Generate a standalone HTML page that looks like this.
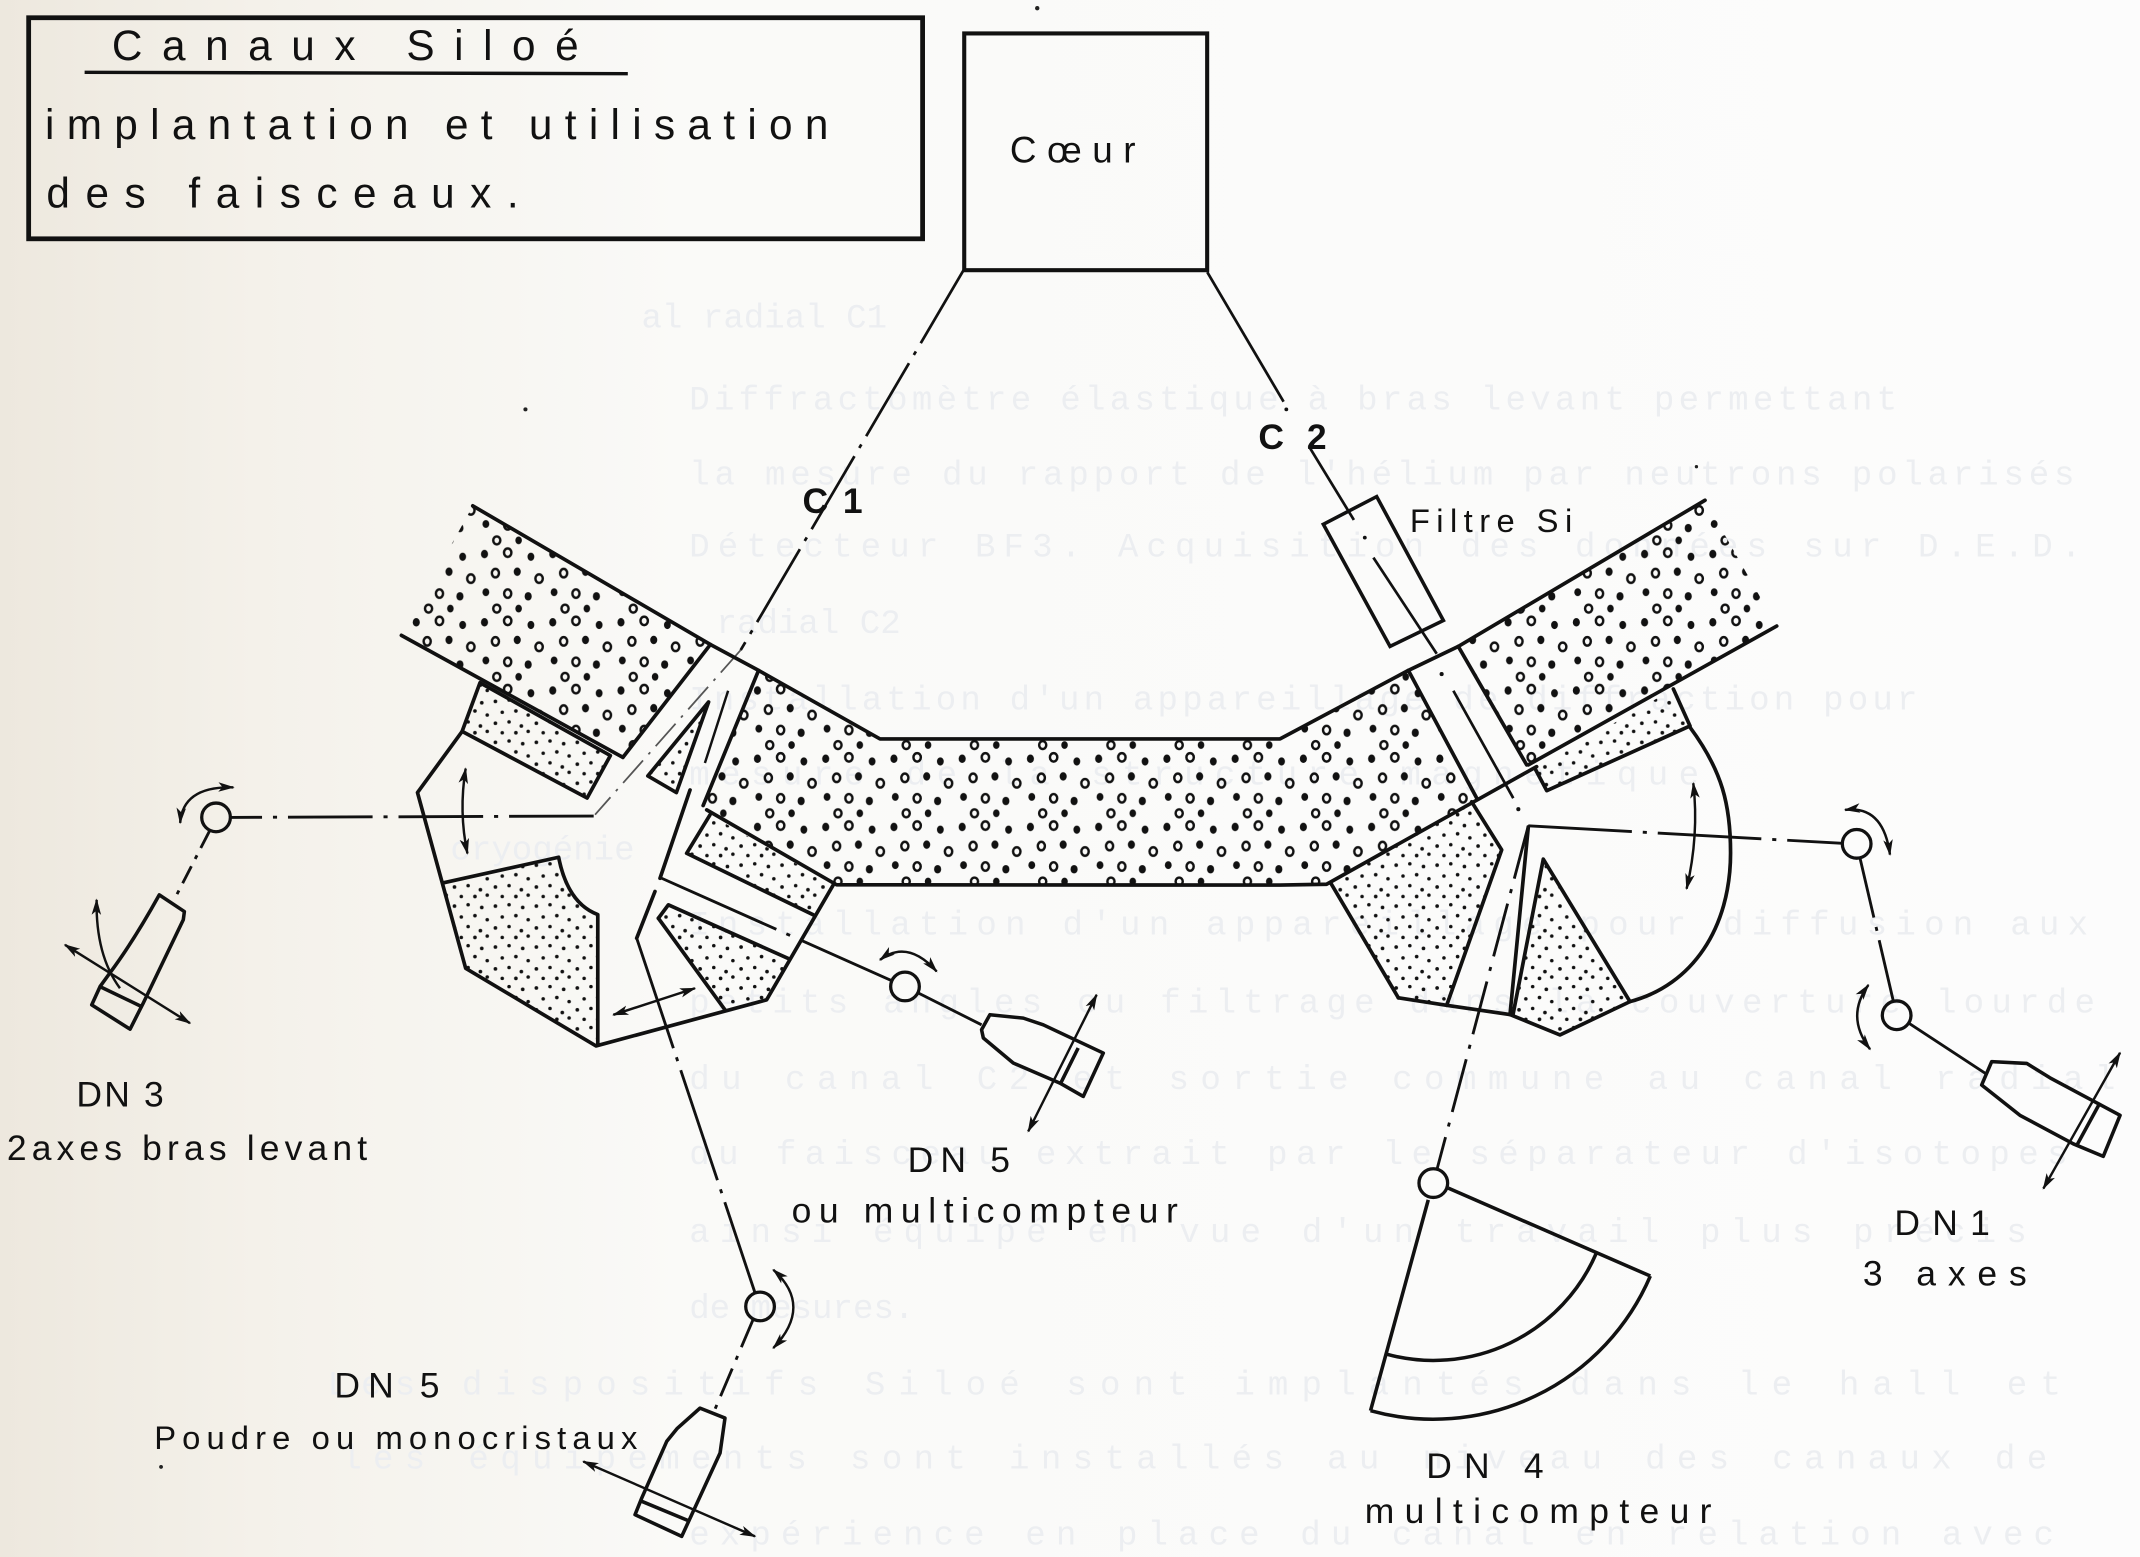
<!DOCTYPE html>
<html>
<head>
<meta charset="utf-8">
<style>
html,body{margin:0;padding:0;background:#fbfbfa;}
svg{display:block;}
text{font-family:"Liberation Sans","DejaVu Sans",sans-serif;fill:#111;}
g.bg text{font-family:"Liberation Mono","DejaVu Sans Mono",monospace;fill:#eceef1;font-size:25px;}
</style>
</head>
<body>
<svg width="2140" height="1557" viewBox="0 0 1568 1141" preserveAspectRatio="none" xmlns="http://www.w3.org/2000/svg">
<defs>
  <linearGradient id="paper" x1="0" y1="0" x2="1" y2="0">
    <stop offset="0" stop-color="#ede8de"/>
    <stop offset="0.12" stop-color="#f4f1ea"/>
    <stop offset="0.32" stop-color="#fafaf8"/>
    <stop offset="1" stop-color="#fcfcfc"/>
  </linearGradient>
  <pattern id="big" width="50" height="50" patternUnits="userSpaceOnUse">
    <g fill="#111">
      <ellipse cx="5" cy="6" rx="2.6" ry="3.1"/>
      <ellipse cx="39" cy="8" rx="2.5" ry="3"/>
      <ellipse cx="29" cy="19" rx="2.6" ry="3.1"/>
      <ellipse cx="6" cy="34" rx="2.5" ry="2.9"/>
      <ellipse cx="37" cy="37" rx="2.6" ry="3.1"/>
      <ellipse cx="30" cy="46" rx="2.4" ry="2.8"/>
    </g>
    <g fill="none" stroke="#111" stroke-width="1.8">
      <ellipse cx="22" cy="5" rx="2.7" ry="3.1"/>
      <ellipse cx="13" cy="20" rx="2.6" ry="3.1"/>
      <ellipse cx="45" cy="24" rx="2.7" ry="3.1"/>
      <ellipse cx="22" cy="35" rx="2.6" ry="3.1"/>
      <ellipse cx="14" cy="46" rx="2.6" ry="2.9"/>
    </g>
  </pattern>
  <pattern id="fine" width="30" height="30" patternUnits="userSpaceOnUse">
    <g fill="#111">
      <circle cx="3" cy="4" r="1.35"/><circle cx="13" cy="3" r="1.3"/><circle cx="23" cy="5" r="1.35"/>
      <circle cx="8" cy="12" r="1.3"/><circle cx="18" cy="11" r="1.35"/><circle cx="27" cy="14" r="1.3"/>
      <circle cx="3" cy="20" r="1.35"/><circle cx="13" cy="19" r="1.3"/><circle cx="22" cy="22" r="1.35"/>
      <circle cx="8" cy="27" r="1.3"/><circle cx="18" cy="27" r="1.35"/><circle cx="27" cy="26" r="1.3"/>
    </g>
  </pattern>
  <marker id="ah" viewBox="0 0 12 8" refX="11" refY="4" markerWidth="12" markerHeight="8" markerUnits="userSpaceOnUse" orient="auto-start-reverse">
    <path d="M0,0.5 L12,4 L0,7.5 L3,4 z" fill="#111"/>
  </marker>
</defs>

<rect x="0" y="0" width="1568" height="1141" fill="url(#paper)"/>

<!-- faint bleed-through typed text -->
<g class="bg">
  <text x="470" y="240">al radial C1</text>
  <text x="505" y="300" textLength="885" lengthAdjust="spacing">Diffractomètre élastique à bras levant permettant</text>
  <text x="505" y="355" textLength="1015" lengthAdjust="spacing">la mesure du rapport de l'hélium par neutrons polarisés</text>
  <text x="505" y="408" textLength="1020" lengthAdjust="spacing">Détecteur BF3. Acquisition des données sur D.E.D.</text>
  <text x="525" y="464">radial C2</text>
  <text x="505" y="520" textLength="900" lengthAdjust="spacing">Installation d'un appareillage de diffraction pour</text>
  <text x="505" y="575" textLength="740" lengthAdjust="spacing">mesure de la structure magnétique</text>
  <text x="330" y="630">cryogénie</text>
  <text x="505" y="685" textLength="1025" lengthAdjust="spacing">Installation d'un appareillage pour diffusion aux</text>
  <text x="505" y="742" textLength="1030" lengthAdjust="spacing">petits angles ou filtrage dans la couverture lourde</text>
  <text x="505" y="798" textLength="1045" lengthAdjust="spacing">du canal C2 et sortie commune au canal radial</text>
  <text x="505" y="853" textLength="1010" lengthAdjust="spacing">du faisceau extrait par le séparateur d'isotopes</text>
  <text x="505" y="910" textLength="980" lengthAdjust="spacing">ainsi équipé en vue d'un travail plus précis</text>
  <text x="505" y="966">de mesures.</text>
  <text x="240" y="1022" textLength="1270" lengthAdjust="spacing">Les dispositifs Siloé sont implantés dans le hall et</text>
  <text x="250" y="1076" textLength="1250" lengthAdjust="spacing">les équipements sont installés au niveau des canaux de</text>
  <text x="505" y="1132" textLength="1000" lengthAdjust="spacing">expérience en place du canal en relation avec</text>
</g>

<!-- Title box -->
<rect x="21" y="13" width="655" height="162" fill="none" stroke="#111" stroke-width="3.5"/>
<text x="82" y="44" font-size="31" textLength="342" lengthAdjust="spacing">Canaux  Siloé</text>
<line x1="62" y1="53" x2="460" y2="54" stroke="#111" stroke-width="2.5"/>
<text x="33" y="102" font-size="31" textLength="574" lengthAdjust="spacing">implantation et utilisation</text>
<text x="34" y="152" font-size="31" textLength="346" lengthAdjust="spacing">des faisceaux.</text>

<!-- Coeur -->
<rect x="706.5" y="24.5" width="178" height="173.5" fill="none" stroke="#111" stroke-width="3"/>
<text x="740" y="119" font-size="27" textLength="92" lengthAdjust="spacing">Cœur</text>

<!-- C1 beam line -->
<line x1="706" y1="198" x2="542.7" y2="476.4" stroke="#111" stroke-width="2" stroke-dasharray="62 7 3 7"/>
<text x="588" y="376" font-size="26" font-weight="bold" textLength="44" lengthAdjust="spacing">C1</text>
<line x1="542.7" y1="476.4" x2="436" y2="597" stroke="#555" stroke-width="1.3" stroke-dasharray="22 6 2 6"/>

<!-- C2 beam line -->
<line x1="884.6" y1="199.5" x2="940.5" y2="294.4" stroke="#111" stroke-width="2"/>
<circle cx="942.5" cy="300" r="1.4" fill="#111"/>
<line x1="959" y1="327" x2="992" y2="381" stroke="#111" stroke-width="2"/>
<circle cx="1000" cy="394" r="1.4" fill="#111"/>
<line x1="1006.3" y1="408.6" x2="1052.7" y2="479.1" stroke="#111" stroke-width="2"/>
<text x="922" y="329" font-size="26" font-weight="bold" textLength="50" lengthAdjust="spacing">C2</text>
<polygon points="969.6,384.2 1008.7,363.9 1057.6,454.7 1018.5,473.7" fill="none" stroke="#111" stroke-width="2.6"/>
<text x="1033" y="390" font-size="24" textLength="119" lengthAdjust="spacing">Filtre Si</text>

<!-- ===== Fills ===== -->
<g stroke="none">
  <polygon fill="url(#big)" points="346.4,370.7 520.5,472.3 456.4,555 294.1,465.6"/>
  <polygon fill="url(#big)" points="555.8,491.3 644.8,541.5 937.9,541.5 1031.9,491.3 1082,584.9 972,648 613,648.4 517.8,593.5 515.2,590.3"/>
  <polygon fill="url(#big)" points="1068.5,473.7 1249.3,366.6 1301.8,458.8 1118.6,560.5"/>

  <polygon fill="url(#fine)" points="351.7,500.3 447.2,553.7 430.2,584.8 338.6,536"/>
  <polygon fill="url(#fine)" points="519.2,514.4 474.7,568.6 495.6,580.8"/>
  <path fill="url(#fine)" d="M324.5,647 L409.3,628.2 Q416,662 438,670.2 L438,765.5 L341.2,709.6 Z"/>
  <polygon fill="url(#fine)" points="520.2,597.2 610.6,648.4 595.9,670.4 503.1,625.3"/>
  <polygon fill="url(#fine)" points="489.7,663.1 578.7,702.9 561.7,732.7 531.2,740 482.4,672.9"/>
  <polygon fill="url(#fine)" points="1124.7,563.2 1226.1,504.9 1238.3,532 1133.3,579.4"/>
  <polygon fill="url(#fine)" points="975,647 1078.3,587.6 1100.3,622.8 1060,736.7 1024.6,731.2"/>
  <polygon fill="url(#fine)" points="1130.8,629.6 1194.3,734 1143,758.4 1108.5,744"/>
</g>

<!-- ===== Structure lines ===== -->
<g fill="none" stroke="#111" stroke-width="2.7" stroke-linejoin="round" stroke-linecap="round">
  <polyline points="346.4,370.7 520.5,472.3 555.8,491.3 644.8,541.5 937.9,541.5 1031.9,491.3 1068.5,473.7 1249.3,366.6"/>
  <line x1="294.1" y1="465.6" x2="456.4" y2="555"/>
  <line x1="520.5" y1="472.3" x2="456.4" y2="555"/>
  <polygon points="351.7,500.3 447.2,553.7 430.2,584.8 338.6,536"/>
  <line x1="555.8" y1="491.3" x2="515.2" y2="590.3"/>
  <polyline points="517.8,593.5 613,648.4 937.9,648.6 972,648 1125.9,561.8"/>
  <polyline points="520.2,597.2 503.1,625.3 595.9,670.4"/>
  <polyline points="338.6,536 305.9,580.8 341.2,709.6 436.7,766.5 561.7,732.7 610.6,648.4"/>
  <path d="M324.5,647 L409.3,628.2 Q416,662 438,670.2 L438,765.5"/>
  <polyline points="482.4,672.9 489.7,663.1 578.7,702.9"/>
  <line x1="482.4" y1="672.9" x2="531.2" y2="740"/>
  <line x1="505.6" y1="578.9" x2="483.6" y2="643.6"/>
  <line x1="479.9" y1="653.3" x2="466.5" y2="687.5"/>
  <polygon points="519.2,514.4 474.7,568.6 495.6,580.8"/>

  <line x1="1031.9" y1="491.3" x2="1082" y2="584.9"/>
  <line x1="1068.5" y1="473.7" x2="1118.6" y2="560.5"/>
  <line x1="1119.8" y1="560.5" x2="1301.8" y2="458.8"/>
  <polyline points="1124.7,563.2 1133.3,579.4 1238.3,532 1226.1,504.9"/>
  <path d="M1238.3,533 C1262,565 1268,590 1268,625 C1268,680 1240,722 1194.3,734"/>
  <polyline points="1024.6,731.2 1060,736.7 1106.4,743.5 1143,758.4 1194.3,734"/>
  <line x1="975" y1="647" x2="1024.6" y2="731.2"/>
  <polyline points="1078.3,587.6 1100.3,622.8 1060,736.7"/>
  <line x1="1119.8" y1="606" x2="1106.4" y2="743.5"/>
  <polyline points="1108.5,744 1130.8,629.6 1194.3,734"/>
</g>
<line x1="533.5" y1="506.2" x2="516.5" y2="559.1" stroke="#111" stroke-width="1.8"/>
<circle cx="1056.3" cy="494" r="1.5" fill="#111"/>
<line x1="1064.9" y1="506.2" x2="1108.8" y2="584.9" stroke="#111" stroke-width="2"/>
<circle cx="1112.5" cy="593" r="1.5" fill="#111"/>

<!-- ===== Beams ===== -->
<g fill="none" stroke="#111" stroke-width="2.1">
  <line x1="435" y1="598" x2="169" y2="599" stroke-dasharray="62 8 3 8"/>
  <line x1="153.5" y1="609" x2="128.2" y2="658.2" stroke-dasharray="14 6 3 6"/>
  <line x1="484.8" y1="643.6" x2="653" y2="718.5" stroke-dasharray="92 8 3 8"/>
  <line x1="672.5" y1="727.5" x2="719.2" y2="751"/>
  <line x1="466.5" y1="687.5" x2="553" y2="946.8" stroke-dasharray="85 7 3 7"/>
  <line x1="551.8" y1="967" x2="522.7" y2="1035.5" stroke-dasharray="22 7 3 7"/>
  <line x1="1119.8" y1="605.2" x2="1350" y2="618" stroke-dasharray="76 8 3 8"/>
  <line x1="1362.8" y1="628.6" x2="1387.3" y2="733.8" stroke-dasharray="45 7 3 7"/>
  <line x1="1398.5" y1="749.7" x2="1455.6" y2="787.2"/>
  <line x1="1119.8" y1="605.2" x2="1052.9" y2="856.9" stroke-dasharray="40 8 3 8"/>
</g>

<!-- ===== Pivots ===== -->
<g fill="none" stroke="#111" stroke-width="2.4">
  <circle cx="158.3" cy="599" r="10.5"/>
  <circle cx="663.1" cy="722.9" r="10.5"/>
  <circle cx="556.9" cy="957.4" r="10.5"/>
  <circle cx="1360.4" cy="618.4" r="10.5"/>
  <circle cx="1389.7" cy="744" r="10.5"/>
  <circle cx="1050.2" cy="867" r="10.5"/>
</g>

<!-- ===== Detectors ===== -->
<g fill="none" stroke="#111" stroke-width="2.6" stroke-linejoin="round">
  <path d="M116.7,655.8 L135.1,668 L134.3,674 L105,735 L95.3,754.2 L67.2,736.4 L73.3,723 L80.6,712.9 Q97.7,690 116.7,655.8 Z"/>
  <line x1="73.3" y1="723" x2="103.8" y2="737.7"/>
  <polygon points="725.3,743.6 749.8,746.1 764.4,751 808.4,771.7 793.7,803.5 776.6,793.7 742.4,779 720.5,760.7 719.2,754.6"/>
  <line x1="790" y1="768" x2="776.6" y2="795"/>
  <polygon points="512.9,1031.9 531.2,1039.2 527.6,1064.8 499.5,1125.9 465.3,1110 470.2,1097.8 488.5,1056.3 496,1047"/>
  <line x1="470.2" y1="1100.2" x2="505.6" y2="1114.9"/>
  <polygon points="1452,795.1 1459.3,778 1485,779.3 1502,789.8 1553.4,817.3 1541.1,847.4 1519.1,838.2 1480,817.3"/>
  <line x1="1538.7" y1="808.1" x2="1521.6" y2="839.5"/>
  <line x1="1046.5" y1="879.3" x2="1004.2" y2="1033.8"/>
  <line x1="1061.2" y1="870.7" x2="1209.2" y2="935.1"/>
  <path d="M1004.2,1033.8 A173,173 0 0 0 1209.2,935.1"/>
  <path d="M1015.7,992.3 A130,130 0 0 0 1169.7,918.2"/>
</g>

<!-- ===== Motion arrows ===== -->
<g fill="none" stroke="#111" stroke-width="1.8" marker-start="url(#ah)" marker-end="url(#ah)">
  <path d="M47.6,692.4 L139.2,749.8"/>
  <path d="M132,603 Q134,576 171,577"/>
  <path d="M341.2,563.2 Q336,595 342.5,625.5"/>
  <path d="M449.4,743.7 L509.2,724.2"/>
  <path d="M644.8,703.4 Q665,688 686.3,711.9"/>
  <path d="M803.5,729 L753.4,829.1"/>
  <path d="M566.6,930.5 Q596,957 566.6,987.9"/>
  <path d="M427.4,1071 L553.2,1125.9"/>
  <path d="M1240.7,574 Q1245,612 1235.8,651.3"/>
  <path d="M1351.9,593.5 Q1380,590 1384.8,626.3"/>
  <path d="M1369,721.8 Q1352,745 1370.2,768.9"/>
  <path d="M1553.4,771.5 L1497.2,871"/>
</g>
<path d="M87.9,724.2 Q70,700 70.8,659.4" fill="none" stroke="#111" stroke-width="1.8" marker-end="url(#ah)"/>

<!-- ===== Labels ===== -->
<text x="56" y="811" font-size="26" textLength="64" lengthAdjust="spacing">DN 3</text>
<text x="5" y="850" font-size="26" textLength="264" lengthAdjust="spacing">2axes bras levant</text>
<text x="665" y="859" font-size="26" textLength="75" lengthAdjust="spacing">DN 5</text>
<text x="580" y="896" font-size="26" textLength="283" lengthAdjust="spacing">ou multicompteur</text>
<text x="245" y="1024" font-size="26" textLength="77" lengthAdjust="spacing">DN 5</text>
<text x="113" y="1062" font-size="24" textLength="354" lengthAdjust="spacing">Poudre ou monocristaux</text>
<text x="1388" y="905" font-size="26" textLength="70" lengthAdjust="spacing">DN1</text>
<text x="1365" y="942" font-size="26" textLength="120" lengthAdjust="spacing">3 axes</text>
<text x="1045" y="1083" font-size="26" textLength="86" lengthAdjust="spacing">DN 4</text>
<text x="1000" y="1116" font-size="26" textLength="254" lengthAdjust="spacing">multicompteur</text>

<g fill="#222">
  <circle cx="760" cy="6" r="1.6"/>
  <circle cx="385" cy="300" r="1.5"/>
  <circle cx="118" cy="1075" r="1.4"/>
  <circle cx="1243" cy="342" r="1.2"/>
</g>
</svg>
</body>
</html>
